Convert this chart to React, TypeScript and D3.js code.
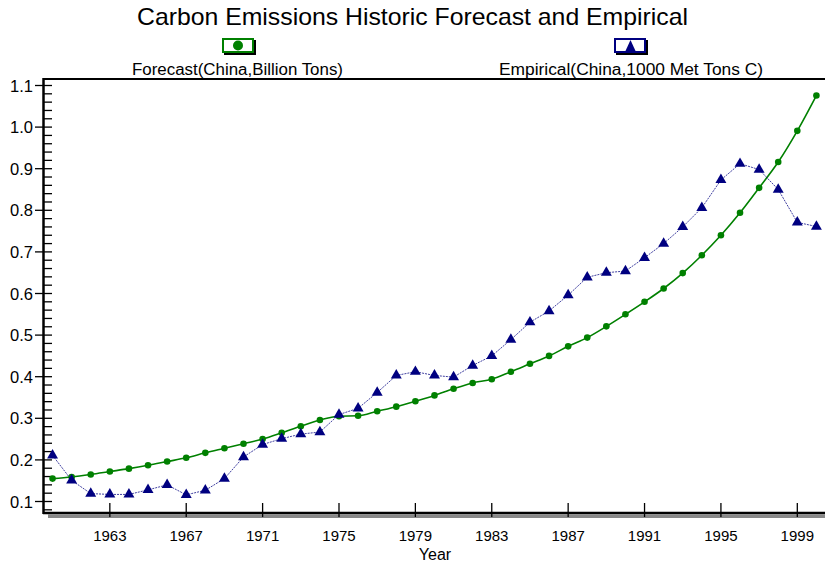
import React from 'react';
import * as d3 from 'd3';

const years = [
  1960, 1961, 1962, 1963, 1964, 1965, 1966, 1967, 1968, 1969,
  1970, 1971, 1972, 1973, 1974, 1975, 1976, 1977, 1978, 1979,
  1980, 1981, 1982, 1983, 1984, 1985, 1986, 1987, 1988, 1989,
  1990, 1991, 1992, 1993, 1994, 1995, 1996, 1997, 1998, 1999, 2000,
];

// Forecast (China, billion tons)
const forecast = [
  0.155, 0.159, 0.165, 0.172, 0.179, 0.187, 0.196, 0.205, 0.217, 0.228,
  0.239, 0.25, 0.265, 0.281, 0.296, 0.305, 0.306, 0.317, 0.328, 0.341,
  0.355, 0.371, 0.385, 0.394, 0.412, 0.431, 0.45, 0.473, 0.494, 0.521,
  0.55, 0.58, 0.612, 0.649, 0.692, 0.74, 0.794, 0.854, 0.916, 0.991, 1.076,
];

// Empirical (China, 1000 met tons C)
const empirical = [
  0.211, 0.151, 0.119, 0.117, 0.117, 0.128, 0.14, 0.116, 0.127, 0.155,
  0.207, 0.237, 0.251, 0.262, 0.267, 0.309, 0.324, 0.362, 0.403, 0.412,
  0.403, 0.399, 0.427, 0.45, 0.489, 0.531, 0.558, 0.596, 0.639, 0.65,
  0.654, 0.686, 0.72, 0.76, 0.806, 0.873, 0.912, 0.898, 0.85, 0.771, 0.761,
];

const xTicks = [1963, 1967, 1971, 1975, 1979, 1983, 1987, 1991, 1995, 1999];
const yTicks = [0.1, 0.2, 0.3, 0.4, 0.5, 0.6, 0.7, 0.8, 0.9, 1.0, 1.1];
const yMinor = [
  0.08, 0.12, 0.14, 0.16, 0.18, 0.22, 0.24, 0.26, 0.28, 0.32, 0.34, 0.36, 0.38,
  0.42, 0.44, 0.46, 0.48, 0.52, 0.54, 0.56, 0.58, 0.62, 0.64, 0.66, 0.68,
  0.72, 0.74, 0.76, 0.78, 0.82, 0.84, 0.86, 0.88, 0.92, 0.94, 0.96, 0.98,
  1.02, 1.04, 1.06, 1.08,
];

const W = 825;
const H = 564;
const FONT = '"Liberation Sans", Arial, sans-serif';
const GREEN = '#008000';
const NAVY = '#000080';

const App = () => {
  const left = 43;
  const top = 78;
  const bottom = 513;

  const x = d3.scaleLinear().domain([1959.5, 2000.45]).range([left, W]);
  const y = d3.scaleLinear().domain([0.1, 1.1]).range([501.5, 85.5]);

  const fPts = years.map((yr, i) => ({ yr, v: forecast[i] }));
  const ePts = years.map((yr, i) => ({ yr, v: empirical[i] }));

  const fLine = d3.line<{ yr: number; v: number }>()
    .x(d => x(d.yr))
    .y(d => y(d.v))
    .curve(d3.curveMonotoneX);

  const eLine = d3.line<{ yr: number; v: number }>()
    .x(d => x(d.yr))
    .y(d => y(d.v));

  const tri = d3.symbol().type(d3.symbolTriangle).size(52)();

  return (
    <svg width={W} height={H} style={{ position: 'absolute', left: 0, top: 0, background: '#fff' }}>
      <rect width={W} height={H} fill="#fff" />

      {/* Title */}
      <text x={137} y={25} fontFamily={FONT} fontSize={24} fill="#000"
        textLength={551} lengthAdjust="spacingAndGlyphs">
        Carbon Emissions Historic Forecast and Empirical
      </text>

      {/* Legend */}
      <g>
        <rect x={224} y={40} width={32} height={15} fill="#000" />
        <rect x={223} y={39} width={30} height={13} fill="#fff" stroke={GREEN} strokeWidth={2} />
        <circle cx={238} cy={45.5} r={5} fill={GREEN} />
        <text x={132} y={75} fontFamily={FONT} fontSize={16}
          textLength={211} lengthAdjust="spacingAndGlyphs">
          Forecast(China,Billion Tons)
        </text>

        <rect x={616} y={40} width={32} height={15} fill="#000" />
        <rect x={615} y={39} width={30} height={13} fill="#fff" stroke={NAVY} strokeWidth={2} />
        <path d="M630.5,40 L636,52 L625,52 Z" fill={NAVY} />
        <text x={499} y={75} fontFamily={FONT} fontSize={16}
          textLength={264} lengthAdjust="spacingAndGlyphs">
          Empirical(China,1000 Met Tons C)
        </text>
      </g>

      {/* Frame: top border, left axis, bottom axis with shadow */}
      <rect x={48} y={bottom + 1.5} width={W - 48} height={3.5} fill="#888" />
      <line x1={left} x2={W} y1={top + 1} y2={top + 1} stroke="#000" strokeWidth={2} />
      <line x1={left + 0.5} x2={left + 0.5} y1={top} y2={bottom + 1} stroke="#000" strokeWidth={2.5} />
      <line x1={left} x2={W} y1={bottom} y2={bottom} stroke="#000" strokeWidth={2.5} />

      {/* Y axis ticks */}
      {yMinor.map(t => (
        <line key={'m' + t} x1={left} x2={52} y1={y(t)} y2={y(t)} stroke="#000" strokeWidth={1.3} />
      ))}
      {yTicks.map(t => (
        <g key={'y' + t}>
          <line x1={35} x2={52} y1={y(t)} y2={y(t)} stroke="#000" strokeWidth={1.3} />
          <text x={33} y={y(t) + 6} textAnchor="end" fontFamily={FONT} fontSize={16.5}>
            {t.toFixed(1)}
          </text>
        </g>
      ))}

      {/* X axis ticks */}
      {xTicks.map(t => (
        <g key={'x' + t}>
          <line x1={x(t)} x2={x(t)} y1={503} y2={517} stroke="#000" strokeWidth={1.3} />
          <text x={x(t)} y={541} textAnchor="middle" fontFamily={FONT} fontSize={15}>
            {t}
          </text>
        </g>
      ))}
      <text x={435} y={560} textAnchor="middle" fontFamily={FONT} fontSize={16}>
        Year
      </text>

      {/* Forecast series */}
      <path d={fLine(fPts) ?? ''} fill="none" stroke={GREEN} strokeWidth={1.6} />
      {fPts.map(d => (
        <circle key={'f' + d.yr} cx={x(d.yr)} cy={y(d.v)} r={3.3} fill={GREEN} />
      ))}

      {/* Empirical series */}
      <path d={eLine(ePts) ?? ''} fill="none" stroke={NAVY} strokeWidth={1} strokeOpacity={0.75} strokeDasharray="2 1" />
      {ePts.map(d => (
        <path key={'e' + d.yr} d={tri ?? ''} transform={`translate(${x(d.yr)},${y(d.v)})`} fill={NAVY} />
      ))}
    </svg>
  );
};

export default App;
